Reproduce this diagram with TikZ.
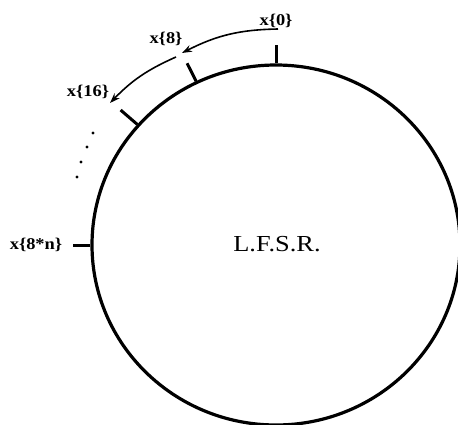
\documentclass[tikz,border=0pt]{standalone}
\usepackage{fontspec}
\setmainfont{Liberation Serif}
\usetikzlibrary{shapes.geometric,calc,arrows.meta}
\begin{document}
\begin{tikzpicture}[x=1bp,y=1bp,
  ring/.style={draw,ellipse,line width=3.2bp,minimum width=368bp,minimum height=360bp,inner sep=0pt},
  tick/.style={line width=3bp},
  lab/.style={font=\fontsize{16.5}{16.5}\selectfont\bfseries,xscale=1.12,inner sep=0pt},
  flow/.style={line width=1.6bp,-{Stealth[length=10bp,width=7bp]}},
  dotmark/.style={circle,fill,inner sep=0pt,minimum size=3.4bp}]
\useasboundingbox (0,0) rectangle (458,424);
\node[ring] (lfsr) at (276,179) {};
\node[font=\fontsize{23}{23}\selectfont,xscale=1.15] (name) at (277,180) {L.F.S.R.};
% ticks
\draw[tick] (lfsr.90) -- ++(90:18);
\draw[tick] (lfsr.116.8) -- ++(116.8:20);
\draw[tick] (lfsr.139.2) -- ++(139.2:22);
\draw[tick] (lfsr.180) -- ++(180:17);
% labels
\node[lab] (x0) at (276,403) {x\{0\}};
\node[lab] (x8) at (166,385) {x\{8\}};
\node[lab] (x16) at (88,332) {x\{16\}};
\node[lab] (xn) at (36,179) {x\{8*n\}};
% arrows
\coordinate (a0) at (278,395);
\coordinate (a1) at (182,371);
\coordinate (b0) at (176,367);
\coordinate (b1) at (110,321);
\draw[flow] (a0) to[bend right=13] (a1);
\draw[flow] (b0) to[bend right=11] (b1);
% dots
\node[dotmark] (d1) at (93,291) {};
\node[dotmark] (d2) at (87,277) {};
\node[dotmark] (d3) at (81,262) {};
\node[dotmark] (d4) at (77,247) {};
\end{tikzpicture}
\end{document}
